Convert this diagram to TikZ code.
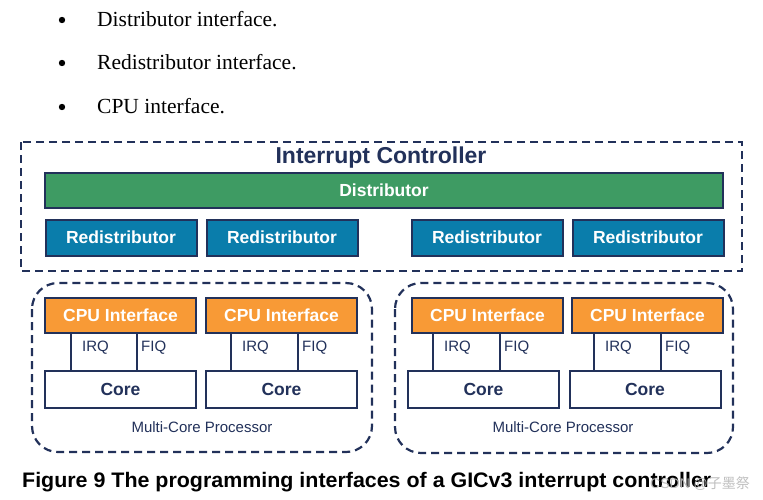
\documentclass[tikz,border=0pt]{standalone}
\usepackage{fontspec}
\setmainfont{Liberation Serif}
\setsansfont{Liberation Sans}
\newfontfamily\cjkfont{Noto Sans CJK SC}
\usetikzlibrary{calc}
\definecolor{navy}{HTML}{22315A}
\definecolor{distgreen}{HTML}{3E9B63}
\definecolor{redistblue}{HTML}{0A7DAB}
\definecolor{cpuorange}{HTML}{F89A36}
\tikzset{
  blk/.style={draw=navy, line width=2pt, inner sep=0pt, font=\sffamily\bfseries\fontsize{17.5}{20}\selectfont},
  distbox/.style={blk, fill=distgreen, text=white},
  redistbox/.style={blk, fill=redistblue, text=white, minimum width=151pt, minimum height=36pt},
  cpubox/.style={blk, fill=cpuorange, text=white, minimum width=151pt, minimum height=35pt},
  corebox/.style={blk, fill=white, text=navy, minimum width=151pt, minimum height=37pt},
  dashbox/.style={draw=navy, line width=2.2pt, dash pattern=on 8pt off 5pt},
  sig/.style={draw=navy, line width=2pt},
  siglabel/.style={text=navy, font=\sffamily\fontsize{15}{17}\selectfont, inner sep=0pt, anchor=base west},
  bullettext/.style={font=\rmfamily\fontsize{21.5}{24}\selectfont, inner sep=0pt, anchor=base west},
}
\begin{document}
\begin{tikzpicture}[x=1pt, y=-1pt]
\path[use as bounding box, fill=white] (0,0) rectangle (763,499);

% bullets
\fill (62,20) circle (3.2pt);
\fill (62,63) circle (3.2pt);
\fill (62,107) circle (3.2pt);
\node[bullettext] (b1) at (97,26) {Distributor interface.};
\node[bullettext] (b2) at (97,69) {Redistributor interface.};
\node[bullettext] (b3) at (97,113) {CPU interface.};

% interrupt controller
\draw[dashbox] (21,142) rectangle (742,271);
\node[anchor=base, text=navy, font=\sffamily\bfseries\fontsize{23}{26}\selectfont, inner sep=0pt] (ictitle) at (381,163) {Interrupt Controller};
\node[distbox, minimum width=678pt, minimum height=35pt] (dist) at (384,190) {Distributor};
\node[redistbox] (r1) at (121,237.5) {Redistributor};
\node[redistbox] (r2) at (282,237.5) {Redistributor};
\node[redistbox] (r3) at (487,237.5) {Redistributor};
\node[redistbox] (r4) at (648,237.5) {Redistributor};

% left multi-core processor
\draw[dashbox, rounded corners=26pt] (32,283) rectangle (372,452);
\node[cpubox] (c1) at (120.5,315.5) {CPU Interface};
\node[cpubox] (c2) at (281.5,315.5) {CPU Interface};
\node[corebox] (k1) at (120.5,389.5) {Core};
\node[corebox] (k2) at (281.5,389.5) {Core};
\node[text=navy, font=\sffamily\fontsize{15}{17}\selectfont, inner sep=0pt, anchor=base] (mcp1) at (202,432) {Multi-Core Processor};

% right multi-core processor
\draw[dashbox, rounded corners=26pt] (395,283) rectangle (733,453);
\node[cpubox] (c3) at (487.5,315.5) {CPU Interface};
\node[cpubox] (c4) at (647.5,315.5) {CPU Interface};
\node[corebox] (k3) at (483.5,389.5) {Core};
\node[corebox] (k4) at (645,389.5) {Core};
\node[text=navy, font=\sffamily\fontsize{15}{17}\selectfont, inner sep=0pt, anchor=base] (mcp2) at (563,432) {Multi-Core Processor};

% IRQ / FIQ lines
\foreach \c/\k/\xi/\xf in {c1/k1/71/137, c2/k2/231/298, c3/k3/433/500, c4/k4/594/661}{
  \draw[sig] (\c.south -| \xi,0) -- (\k.north -| \xi,0);
  \draw[sig] (\c.south -| \xf,0) -- (\k.north -| \xf,0);
  \node[siglabel] at (\xi+11,351) {IRQ};
  \node[siglabel] at (\xf+4,351) {FIQ};
}

% caption
\node[anchor=base west, inner sep=0pt] (cap) at (22,487) {\resizebox{689pt}{\height}{\sffamily\bfseries\fontsize{21}{24}\selectfont Figure 9 The programming interfaces of a GICv3 interrupt controller}};
\node[anchor=base west, inner sep=0pt, text=gray!55, opacity=0.9, font=\sffamily\fontsize{14}{16}\selectfont] (wm) at (650,488) {CSDN @{\cjkfont 子墨祭}};
\end{tikzpicture}
\end{document}
